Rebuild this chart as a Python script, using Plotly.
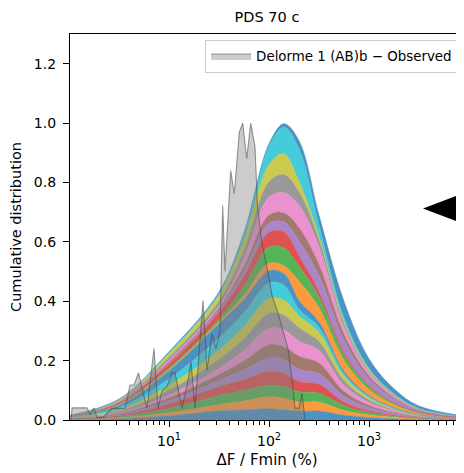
import plotly.graph_objects as go

# ---------------- data ----------------
# sample columns along the x axis (ΔF / Fmin, %)
x_grid = [1.0, 3.16, 10.0, 31.6, 56.2, 100.0, 141.0, 200.0, 316.0, 562.0, 1000.0, 1778.0, 3162.0, 10000.0]

# thickness of each stacked band at the sample columns (bottom band first)
band_01 = [.001, .004, .014, .031, .034, .038, .034, .030, .030, .016, .008, .004, .002, .0005]
band_02 = [.001, .003, .010, .020, .030, .040, .039, .030, .030, .016, .009, .005, .002, .0005]
band_03 = [.001, .004, .015, .031, .035, .040, .039, .035, .030, .016, .008, .004, .002, .0005]
band_04 = [.001, .004, .015, .030, .037, .046, .045, .035, .030, .012, .006, .003, .001, .0003]
band_05 = [.0005, .003, .010, .021, .032, .045, .045, .040, .036, .020, .010, .005, .002, .0005]
band_06 = [.0005, .003, .010, .020, .031, .044, .044, .045, .036, .016, .008, .004, .002, .0005]
band_07 = [.0005, .003, .010, .020, .035, .056, .057, .050, .042, .020, .010, .005, .002, .0005]
band_08 = [.001, .005, .016, .031, .040, .050, .050, .045, .030, .016, .008, .004, .002, .0005]
band_09 = [.001, .005, .016, .031, .040, .050, .050, .040, .030, .016, .007, .003, .001, .0003]
band_10 = [.0015, .007, .022, .040, .046, .052, .051, .022, .018, .008, .004, .002, .001, .0002]
band_11 = [.002, .009, .028, .050, .046, .042, .039, .030, .018, .008, .004, .002, .001, .0002]
band_12 = [.0, .001, .003, .005, .013, .024, .026, .065, .048, .036, .020, .010, .005, .001]
band_13 = [.0005, .002, .006, .010, .030, .055, .060, .050, .036, .020, .010, .005, .002, .0005]
band_14 = [.001, .005, .014, .023, .035, .050, .054, .035, .018, .008, .004, .002, .001, .0002]
band_15 = [.0, .001, .004, .007, .017, .030, .034, .050, .055, .040, .022, .012, .005, .0013]
band_16 = [.0, .001, .004, .007, .015, .028, .030, .045, .036, .020, .010, .005, .002, .0005]
band_17 = [.0005, .002, .005, .008, .028, .060, .068, .075, .060, .024, .012, .006, .003, .0008]
band_18 = [.0005, .003, .009, .015, .028, .052, .061, .045, .024, .012, .005, .003, .001, .0003]
band_19 = [.001, .004, .012, .020, .032, .058, .070, .035, .012, .008, .004, .002, .001, .0002]
band_20 = [.0, .001, .004, .006, .023, .062, .090, .110, .036, .012, .005, .002, .001, .0002]
band_21 = [.0, .0, .003, .005, .004, .008, .012, .028, .035, .056, .032, .017, .008, .002]

# observed distribution (grey)
obs_x = [1.05, 1.072, 1.514, 1.622, 1.778, 1.905, 2.188, 2.455, 2.692, 3.388, 3.631,
         4.074, 4.467, 4.955, 6.026, 7.079, 7.762, 8.511, 9.550, 10.72, 11.48, 13.49,
         15.49, 16.60, 18.20, 21.88, 23.99, 26.92, 29.51, 32.36, 34.43, 36.31, 41.40,
         44.98, 50.47, 54.58, 59.84, 65.61, 72.44, 76.74, 84.53, 98.39, 107.2, 114.8,
         123.0, 138.0, 154.9, 169.8, 182.0, 199.5, 213.8, 229.1]
obs_y = [0.0, 0.041, 0.041, 0.017, 0.041, 0.009, 0.009, 0.025, 0.039, 0.039, 0.039,
         0.118, 0.118, 0.159, 0.039, 0.241, 0.039, 0.100, 0.112, 0.159, 0.159, 0.039,
         0.134, 0.196, 0.039, 0.403, 0.168, 0.291, 0.240, 0.300, 0.723, 0.500, 0.840,
         0.762, 0.969, 1.000, 0.880, 1.000, 0.920, 0.720, 0.600, 0.490, 0.420, 0.390,
         0.360, 0.300, 0.240, 0.140, 0.040, 0.040, 0.090, 0.0]

obs_label = "Delorme 1 (AB)b \u2212 Observed"
title_text = "PDS 70 c"
x_title = "\u0394F / Fmin (%)"
y_title = "Cumulative distribution"
x_tick_vals = [10, 100, 1000]
x_tick_text = ["10<sup>1</sup>", "10<sup>2</sup>", "10<sup>3</sup>"]
y_tick_vals = [0.0, 0.2, 0.4, 0.6, 0.8, 1.0, 1.2]
y_tick_text = ["0.0", "0.2", "0.4", "0.6", "0.8", "1.0", "1.2"]

# tab10 colours at 80% opacity on white
palette = ["#4c92c3", "#ff993e", "#56b356", "#de5253", "#a985ca",
           "#a3786f", "#e992ce", "#999999", "#c9ca4e", "#45cbd9"]

bands = [band_01, band_02, band_03, band_04, band_05, band_06, band_07,
         band_08, band_09, band_10, band_11, band_12, band_13, band_14,
         band_15, band_16, band_17, band_18, band_19, band_20, band_21]

FONT = "DejaVu Sans"

fig = go.Figure()
for i, b in enumerate(bands):
    c = palette[i % 10]
    fig.add_trace(go.Scatter(
        x=x_grid, y=b, stackgroup="one", mode="lines",
        line=dict(color=c, width=0.6, shape="spline", smoothing=1.0),
        fillcolor=c, showlegend=False, hoverinfo="skip"))

fig.add_trace(go.Scatter(
    x=obs_x, y=obs_y, mode="lines", fill="tozeroy",
    fillcolor="rgba(128,128,128,0.4)",
    line=dict(color="rgba(70,70,70,0.55)", width=1.1),
    name=obs_label, showlegend=True))

minor_vals = []
for dec in [1, 10, 100, 1000]:
    for m in range(2, 10):
        minor_vals.append(dec * m)

# the page body has an 8px margin; the figure is sized so the plot lands
# at the reference position inside the 464x473 window
W, H = 456, 465
fig.update_layout(
    width=W, height=H,
    margin=dict(l=62, r=0, t=26, b=53),
    paper_bgcolor="white", plot_bgcolor="white",
    font=dict(family=FONT, size=13, color="black"),
    title=dict(text=title_text, x=0.5, xref="paper", xanchor="center",
               y=1 - 9 / H, yref="container", yanchor="middle",
               font=dict(family=FONT, size=14.5, color="black")),
    xaxis=dict(type="log", range=[0.01, 3.95], showgrid=False, zeroline=False,
               showline=True, linecolor="black", linewidth=1.2, mirror=True,
               ticks="outside", ticklen=6, tickwidth=1, tickcolor="black",
               tickvals=x_tick_vals, ticktext=x_tick_text,
               tickfont=dict(size=14), ticklabelstandoff=2,
               minor=dict(tickvals=minor_vals, ticks="outside", ticklen=3.5,
                          tickcolor="black", tickwidth=0.8, showgrid=False),
               title=dict(text=x_title, font=dict(size=15), standoff=6)),
    yaxis=dict(range=[0, 1.3], showgrid=False, zeroline=False,
               showline=True, linecolor="black", linewidth=1.2,
               ticks="outside", ticklen=6, tickwidth=1, tickcolor="black",
               tickvals=y_tick_vals, ticktext=y_tick_text,
               tickfont=dict(size=14), ticklabelstandoff=4,
               title=dict(text=y_title, font=dict(size=14.5), standoff=10)),
    legend=dict(x=0.985, y=0.985, xanchor="right", yanchor="top",
                bgcolor="white", bordercolor="#cccccc", borderwidth=1,
                itemwidth=40, font=dict(size=13.4)),
    shapes=[dict(type="path", xref="paper", yref="paper",
                 path="M 0.8959,0.5479 L 1.0152,0.5938 L 1.0152,0.5021 Z",
                 fillcolor="black", line=dict(color="black", width=0))],
)

fig.write_html("out.html")
